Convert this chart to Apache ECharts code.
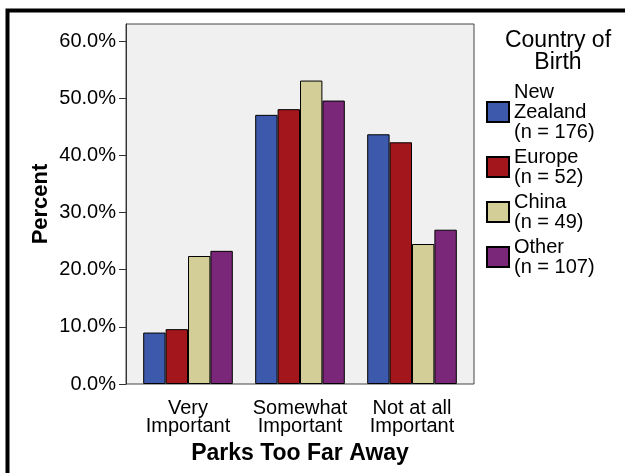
<!DOCTYPE html>
<html>
<head>
<meta charset="utf-8">
<script src="https://cdn.jsdelivr.net/npm/echarts@6/dist/echarts.min.js"></script>
<style>
  html, body { margin: 0; padding: 0; background: #fff; }
  #main { width: 625px; height: 473px; }
</style>
</head>
<body>
<div id="main"></div>
<script>
// Data
var categories = ['Very\nImportant', 'Somewhat\nImportant', 'Not at all\nImportant'];
var groupNames = ['New\nZealand', 'Europe', 'China', 'Other'];
var groupSizes = [176, 52, 49, 107];
var nzValues = [9.0, 47.1, 43.7];
var europeValues = [9.6, 48.1, 42.3];
var chinaValues = [22.4, 53.1, 24.5];
var otherValues = [23.3, 49.6, 27.0];
var yTicks = [0, 10, 20, 30, 40, 50, 60];

var colors = ['#3d59ab', '#a3161b', '#d3ce97', '#7b2779'];
var allValues = [nzValues, europeValues, chinaValues, otherValues];
var font = 'Liberation Sans, Arial, sans-serif';

var series = groupNames.map(function (name, i) {
  return {
    name: name + '\n(n = ' + groupSizes[i] + ')',
    type: 'bar',
    data: allValues[i],
    barGap: '0%',
    barCategoryGap: '20%',
    itemStyle: {
      color: colors[i],
      borderColor: '#000',
      borderWidth: 1
    }
  };
});

var chart = echarts.init(document.getElementById('main'));

chart.setOption({
  animation: false,
  textStyle: { fontFamily: font },
  title: {
    text: 'Country of\nBirth',
    left: 558,
    top: 30,
    textAlign: 'center',
    padding: 0,
    textStyle: {
      fontFamily: font,
      fontSize: 23,
      fontWeight: 'normal',
      lineHeight: 22,
      color: '#000'
    }
  },
  legend: {
    orient: 'vertical',
    left: 486,
    top: 82,
    padding: 0,
    itemWidth: 22,
    itemHeight: 20,
    itemGap: 5,
    icon: 'rect',
    textStyle: {
      fontFamily: font,
      fontSize: 20,
      lineHeight: 20,
      color: '#000'
    }
  },
  graphic: [
    {
      // plot background and frame
      type: 'rect',
      z: -10,
      shape: { x: 126, y: 24, width: 348, height: 360 },
      style: { fill: '#f0f0f0', stroke: '#444', lineWidth: 1 }
    },
    {
      // outer border
      type: 'rect',
      z: -10,
      shape: { x: 7.5, y: 10.5, width: 700, height: 600 },
      style: { fill: 'none', stroke: '#000', lineWidth: 4 }
    }
  ],
  grid: {
    left: 132,
    right: 157,
    top: 24,
    bottom: 89
  },
  xAxis: {
    type: 'category',
    data: categories,
    name: 'Parks Too Far Away',
    nameLocation: 'middle',
    nameGap: 58,
    nameMoveOverlap: false,
    nameTextStyle: {
      fontFamily: font,
      fontSize: 23,
      fontWeight: 'bold',
      color: '#000'
    },
    axisLine: { show: false },
    axisTick: {
      alignWithLabel: true,
      length: 7,
      lineStyle: { color: '#333' }
    },
    axisLabel: {
      margin: 15,
      fontSize: 20,
      lineHeight: 18,
      color: '#000',
      interval: 0
    }
  },
  yAxis: {
    type: 'value',
    min: 0,
    max: 63,
    interval: 10,
    offset: 6,
    name: 'Percent',
    nameLocation: 'middle',
    nameGap: 74,
    nameMoveOverlap: false,
    nameTextStyle: {
      fontFamily: font,
      fontSize: 22,
      fontWeight: 'bold',
      color: '#000'
    },
    splitLine: { show: false },
    axisLine: { show: true, lineStyle: { color: '#333' } },
    axisTick: {
      show: true,
      length: 7,
      customValues: yTicks,
      lineStyle: { color: '#333' }
    },
    axisLabel: {
      margin: 10,
      fontSize: 20,
      color: '#000',
      customValues: yTicks,
      formatter: function (v) { return v.toFixed(1) + '%'; }
    }
  },
  series: series
});
</script>
</body>
</html>
